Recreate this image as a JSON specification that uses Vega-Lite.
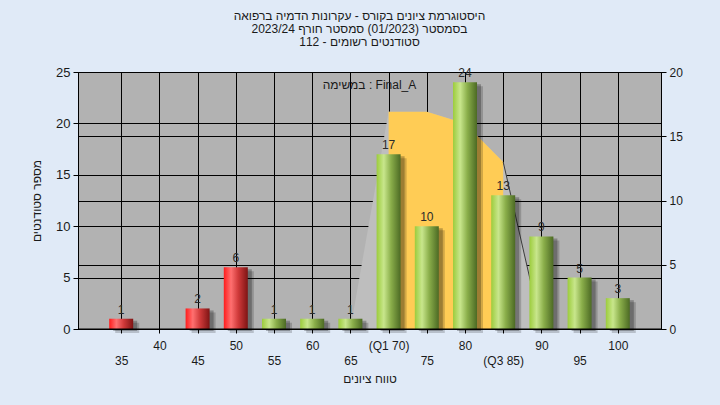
{
  "$schema": "https://vega.github.io/schema/vega-lite/v6.json",
  "width": 583,
  "height": 257,
  "autosize": {"type": "none"},
  "padding": {"left": 78, "top": 72, "right": 59, "bottom": 76},
  "background": "#e0eaf7",
  "config": {
    "view": {"fill": "#b2b2b2", "stroke": "#000000", "strokeWidth": 1},
    "font": "Liberation Sans, DejaVu Sans, sans-serif"
  },
  "title": {
    "text": [
      "היסטוגרמת ציונים בקורס - עקרונות הדמיה ברפואה",
      "בסמסטר  (01/2023)  סמסטר חורף 2023/24",
      "סטודנטים רשומים - 112"
    ],
    "fontSize": 12,
    "fontWeight": "normal",
    "color": "#1a1a1a",
    "lineHeight": 13,
    "anchor": "middle",
    "dx": -10,
    "offset": 17
  },
  "datasets": {
    "bars": [
      {"grade": 35, "count": 1, "pass": false},
      {"grade": 45, "count": 2, "pass": false},
      {"grade": 50, "count": 6, "pass": false},
      {"grade": 55, "count": 1, "pass": true},
      {"grade": 60, "count": 1, "pass": true},
      {"grade": 65, "count": 1, "pass": true},
      {"grade": 70, "count": 17, "pass": true},
      {"grade": 75, "count": 10, "pass": true},
      {"grade": 80, "count": 24, "pass": true},
      {"grade": 85, "count": 13, "pass": true},
      {"grade": 90, "count": 9, "pass": true},
      {"grade": 95, "count": 5, "pass": true},
      {"grade": 100, "count": 3, "pass": true}
    ],
    "curve": [
      {"grade": 65, "v": 0},
      {"grade": 70, "v": 16.9},
      {"grade": 75, "v": 16.9},
      {"grade": 80, "v": 16.0},
      {"grade": 85, "v": 13.0},
      {"grade": 90, "v": 0}
    ],
    "note": [
      {"label": "במשימה : Final_A"}
    ]
  },
  "layer": [
    {
      "data": {"name": "curve"},
      "layer": [
        {
          "mark": {"type": "area", "color": "#bebebe", "interpolate": "linear"},
          "encoding": {
            "x": {
              "field": "grade",
              "type": "quantitative",
              "scale": {"domain": [30, 105], "nice": false, "zero": false},
              "axis": {
                "values": [35, 40, 45, 50, 55, 60, 65, 70, 75, 80, 85, 90, 95, 100],
                "title": "טווח ציונים",
                "grid": true,
                "gridColor": "#000000",
                "gridOpacity": 1,
                "gridWidth": 1,
                "domainColor": "#000000",
                "tickColor": "#000000",
                "tickSize": 4,
                "labelFontSize": 12,
                "labelColor": "#1a1a1a",
                "labelLineHeight": 15,
                "labelPadding": 7,
                "labelFlush": false,
                "labelOverlap": false,
                "labelExpr": "(datum.value % 10 == 5 ? ['', (datum.value == 85 ? '(Q3 85)' : datum.label)] : (datum.value == 70 ? '(Q1 70)' : datum.label))",
                "titleFontSize": 12,
                "titleFontWeight": "normal",
                "titleColor": "#1a1a1a",
                "titlePadding": 7
              }
            },
            "y": {
              "field": "v",
              "type": "quantitative",
              "scale": {"domain": [0, 20], "nice": false},
              "axis": {
                "orient": "right",
                "values": [0, 5, 10, 15, 20],
                "title": null,
                "grid": true,
                "gridColor": "#000000",
                "gridOpacity": 1,
                "domainColor": "#000000",
                "tickColor": "#000000",
                "tickSize": 5,
                "labelFontSize": 12,
                "labelColor": "#1a1a1a",
                "labelPadding": 3
              }
            }
          }
        },
        {
          "transform": [{"filter": "datum.grade >= 70 && datum.grade <= 85"}],
          "mark": {"type": "area", "color": "#ffcc55", "interpolate": "linear"},
          "encoding": {
            "x": {"field": "grade", "type": "quantitative"},
            "y": {"field": "v", "type": "quantitative"}
          }
        },
        {
          "transform": [{"filter": "datum.grade >= 85"}],
          "mark": {"type": "line", "color": "#3c3c3c", "strokeWidth": 1},
          "encoding": {
            "x": {"field": "grade", "type": "quantitative"},
            "y": {"field": "v", "type": "quantitative"}
          }
        }
      ]
    },
    {
      "layer": [
        {
          "data": {"name": "bars"},
          "mark": {"type": "bar", "width": 24, "color": "#000000", "opacity": 0.18, "xOffset": 6, "yOffset": 4},
          "encoding": {
            "x": {"field": "grade", "type": "quantitative"},
            "y": {
              "field": "count",
              "type": "quantitative",
              "scale": {"domain": [0, 25], "nice": false},
              "axis": {
                "orient": "left",
                "values": [0, 5, 10, 15, 20, 25],
                "title": "מספר סטודנטים",
                "titleFontSize": 12,
                "titleFontWeight": "normal",
                "titleColor": "#1a1a1a",
                "titlePadding": 12,
                "grid": true,
                "gridColor": "#000000",
                "gridOpacity": 1,
                "domainColor": "#000000",
                "tickColor": "#000000",
                "tickSize": 5,
                "labelFontSize": 13,
                "labelColor": "#1a1a1a",
                "labelPadding": 3
              }
            }
          }
        },
        {
          "data": {"name": "bars"},
          "mark": {"type": "bar", "width": 24, "color": "#000000", "opacity": 0.25, "xOffset": 4, "yOffset": 2},
          "encoding": {
            "x": {"field": "grade", "type": "quantitative"},
            "y": {"field": "count", "type": "quantitative"}
          }
        },
        {
          "data": {"name": "bars"},
          "transform": [{"filter": "!datum.pass"}],
          "mark": {
            "type": "bar",
            "width": 24,
            "color": {
              "gradient": "linear",
              "x1": 0, "x2": 1, "y1": 0, "y2": 0,
              "stops": [
                {"offset": 0, "color": "#ff1c1c"},
                {"offset": 0.3, "color": "#ff7070"},
                {"offset": 0.6, "color": "#d03a3a"},
                {"offset": 1, "color": "#7e1414"}
              ]
            }
          },
          "encoding": {
            "x": {"field": "grade", "type": "quantitative"},
            "y": {"field": "count", "type": "quantitative"}
          }
        },
        {
          "data": {"name": "bars"},
          "transform": [{"filter": "datum.pass"}],
          "mark": {
            "type": "bar",
            "width": 24,
            "color": {
              "gradient": "linear",
              "x1": 0, "x2": 1, "y1": 0, "y2": 0,
              "stops": [
                {"offset": 0, "color": "#9ccc3c"},
                {"offset": 0.3, "color": "#c8e68c"},
                {"offset": 0.6, "color": "#8aae4a"},
                {"offset": 1, "color": "#4c6a24"}
              ]
            }
          },
          "encoding": {
            "x": {"field": "grade", "type": "quantitative"},
            "y": {"field": "count", "type": "quantitative"}
          }
        },
        {
          "data": {"name": "bars"},
          "mark": {"type": "text", "baseline": "bottom", "dy": -2, "fontSize": 12, "color": "#2a2a2a"},
          "encoding": {
            "x": {"field": "grade", "type": "quantitative"},
            "y": {"field": "count", "type": "quantitative"},
            "text": {"field": "count", "type": "quantitative"}
          }
        },
        {
          "data": {"name": "note"},
          "mark": {"type": "text", "fontSize": 12, "color": "#1a1a1a", "baseline": "middle"},
          "encoding": {
            "x": {"datum": 67.5},
            "y": {"datum": 23.7},
            "text": {"field": "label", "type": "nominal"}
          }
        },
        {
          "data": {"name": "note"},
          "mark": {"type": "rule", "color": "#000000", "strokeWidth": 1},
          "encoding": {"y": {"datum": 0}}
        }
      ]
    }
  ],
  "resolve": {"scale": {"y": "independent"}}
}
